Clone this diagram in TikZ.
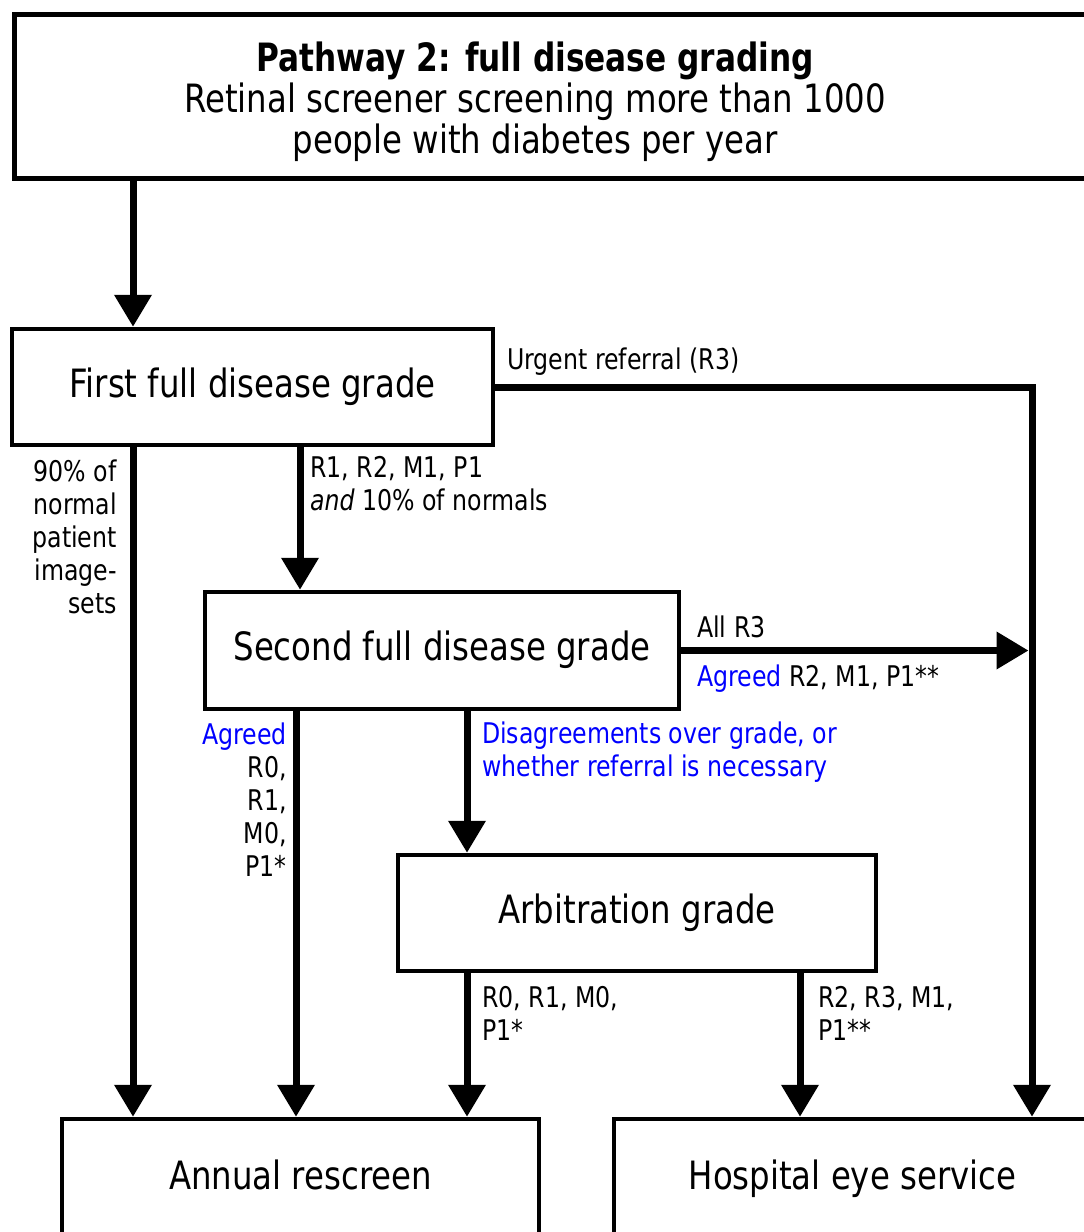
\documentclass[tikz,border=0pt]{standalone}
\usepackage{fontspec}
\setmainfont[FakeStretch=0.83, BoldFeatures={FakeStretch=0.80}]{DejaVu Sans}
\usetikzlibrary{arrows.meta}
\begin{document}
\begin{tikzpicture}[x=1pt,y=-1pt,
  box/.style={draw, line width=4.5pt, rectangle, inner sep=0pt,
    font=\fontsize{39}{43}\selectfont, align=center,
    text height=28pt, text depth=8pt},
  flow/.style={line width=7pt, -{Triangle[width=36pt,length=32pt]}},
  lbl/.style={inner sep=0pt, font=\fontsize{28.5}{33}\selectfont},
  blu/.style={text=blue},
]
\useasboundingbox (0,0) rectangle (1084,1232);
\clip (0,0) rectangle (1084,1232);

% boxes
\node[box, minimum width=1088pt, minimum height=164pt, anchor=north west] (top) at (12,12) {};
\node[inner sep=0pt, align=center, font=\fontsize{39}{41}\selectfont] (title) at (535,102)
  {\textbf{Pathway 2: full disease grading}\\Retinal screener screening more than 1000\\people with diabetes per year};
\node[box, minimum width=481pt, minimum height=116pt] (first) at (252.5,387) {First full disease grade};
\node[box, minimum width=474pt, minimum height=117pt] (second) at (442,650.5) {Second full disease grade};
\node[box, minimum width=478pt, minimum height=116pt] (arb) at (637,913) {Arbitration grade};
\node[box, minimum width=477pt, minimum height=121pt] (annual) at (300.5,1179.5) {Annual rescreen};
\node[box, minimum width=477pt, minimum height=121pt] (hes) at (852.5,1179.5) {Hospital eye service};

% connectors
\coordinate (bend) at (1032,387);
\draw[flow] (top.south -| 133,0) -- (first.north -| 133,0);
\draw[flow] (first.east) -- (bend) -- (hes.north -| bend);
\draw[flow] (first.south -| 133,0) -- (annual.north -| 133,0);
\draw[flow] (first.south -| 300,0) -- (second.north -| 300,0);
\draw[flow] (second.east) -- (1028.5,650.5);
\draw[flow] (second.south -| 296,0) -- (annual.north -| 296,0);
\draw[flow] (second.south -| 467,0) -- (arb.north -| 467,0);
\draw[flow] (arb.south -| 467,0) -- (annual.north -| 467,0);
\draw[flow] (arb.south -| 800,0) -- (hes.north -| 800,0);

% labels
\node[lbl, anchor=west] (l1) at (507,362) {Urgent referral (R3)};
\node[lbl, anchor=east, align=right] (l2) at (117,537) {90\% of\\normal\\patient\\image-\\sets};
\node[lbl, anchor=west, align=left] (l3) at (310,484) {R1, R2, M1, P1\\\textit{and} 10\% of normals};
\node[lbl, anchor=west] (l4) at (697,627) {All R3};
\node[lbl, anchor=west] (l5) at (697,679) {\textcolor{blue}{Agreed} R2, M1, P1**};
\node[lbl, anchor=east, align=right] (l6) at (287,800) {\textcolor{blue}{Agreed}\\R0,\\R1,\\M0,\\P1*};
\node[lbl, blu, anchor=west, align=left] (l7) at (482,752) {Disagreements over grade, or\\whether referral is necessary};
\node[lbl, anchor=west, align=left] (l8) at (482,1013) {R0, R1, M0,\\P1*};
\node[lbl, anchor=west, align=left] (l9) at (818,1013) {R2, R3, M1,\\P1**};
\end{tikzpicture}
\end{document}
